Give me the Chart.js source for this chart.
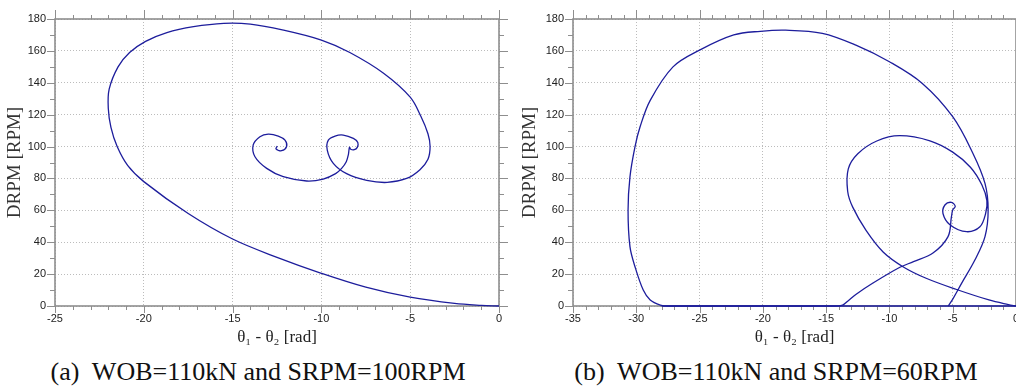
<!DOCTYPE html>
<html>
<head>
<meta charset="utf-8">
<script src="https://cdn.jsdelivr.net/npm/chart.js@4.4.1/dist/chart.umd.min.js"></script>
<style>
  html, body { margin: 0; padding: 0; background: #fff; overflow: hidden; width: 1016px; height: 388px; }
  .box { position: absolute; top: 0; }
  .cap { position: absolute; top: 357px; font-family: "Liberation Serif", "DejaVu Serif", serif; font-size: 26px;
         line-height: 30px; color: #111; white-space: pre; transform: translateX(-50%); }
</style>
</head>
<body>
<div class="box" style="left:0"><canvas id="chartA" width="515" height="352"></canvas></div>
<div class="box" style="left:515px"><canvas id="chartB" width="520" height="352"></canvas></div>
<div class="cap" style="left:258px">(a)  WOB=110kN and SRPM=100RPM</div>
<div class="cap" style="left:776px">(b)  WOB=110kN and SRPM=60RPM</div>
<script>
// (a) WOB=110kN, SRPM=100RPM : theta1 - theta2 [rad] vs DRPM [RPM]
const dthetaA = [0, -1.0, -2.5, -5.0, -7.5, -10.0, -12.5, -15.0, -17.5, -20.0, -20.9, -21.5,
  -21.85, -22.0, -21.95, -21.45, -20.8, -19.9, -18.7, -17.2, -15.5, -14.0, -12.2, -10.0, -8.4, -6.5, -5.0,
  -4.4, -4.0, -3.88, -4.0, -4.45, -5.2, -6.3, -7.45, -8.58, -9.33, -9.67, -9.61, -9.23, -8.77, -8.2,
  -7.95, -7.98, -8.15, -8.35, -8.42, -8.48, -8.6, -8.85, -9.2, -9.9, -10.83, -12.15, -13.08, -13.74,
  -13.84, -13.46, -12.99, -12.43, -12.05, -11.96, -12.24, -12.56, -12.48];
const drpmA = [0, 0.4, 1.6, 5.5, 11.8, 20.5, 30.5, 42.0, 58.0, 78.0, 88.0, 100.0,
  112.0, 124.0, 136.0, 150.0, 159.0, 166.0, 171.5, 175.2, 177.3, 176.8, 173.2, 166.8, 159.0, 146.0, 131.0,
  119.0, 108.0, 100.0, 92.0, 85.5, 80.0, 77.5, 78.8, 83.0, 89.5, 97.8, 104.0, 106.6, 107.2, 105.1,
  102.5, 99.5, 98.0, 98.3, 99.6, 95.0, 90.5, 86.5, 83.0, 79.6, 78.4, 81.1, 86.3, 93.6,
  101.0, 106.2, 107.8, 106.6, 104.0, 100.0, 97.4, 98.6, 100.3];

// (b) WOB=110kN, SRPM=60RPM
const dthetaB = [0, -0.6, -2.14, -4.75, -7.1, -8.9, -10.5, -11.86, -12.9, -13.3, -13.25, -12.5, -11.0, -9.2,
  -6.8, -5.0, -3.6, -2.7, -2.3, -2.4, -2.85, -3.9, -5.2, -5.77, -5.6, -5.1, -4.8, -5.0,
  -5.1, -5.37, -6.56, -8.1, -9.17, -11.3, -12.6, -13.3, -13.7, -14.3,
  -27.5, -28.1, -28.9, -29.45, -30.1, -30.5, -30.65, -30.5, -30.1, -29.7, -28.9, -27.1, -25.0, -22.3, -20.2,
  -18.2, -15.3, -12.65, -10.0, -7.4, -5.0, -3.4, -2.45, -2.2, -2.45, -3.25, -4.3, -4.96, -5.35];
const drpmB = [0, 0.9, 3.8, 10.5, 17.4, 24.5, 33.9, 47.6, 62.0, 72.0, 86.0, 95.5, 103.5, 106.8,
  103.6, 96.5, 87.0, 76.0, 66.0, 58.0, 49.7, 46.6, 50.8, 58.0, 63.5, 65.0, 62.5, 60.2,
  56.0, 43.5, 33.2, 27.8, 24.3, 14.4, 7.5, 3.0, 0.6, 0,
  0, 0.6, 3.8, 10.0, 24.6, 37.2, 60.0, 81.0, 100.0, 112.4, 129.0, 150.0, 160.5, 170.0, 172.3,
  173.0, 171.0, 163.6, 153.2, 139.6, 118.7, 95.7, 76.9, 60.2, 43.5, 28.8, 14.2, 4.8, 0];
// stick phase along DRPM = 0
const stickThetaB = [-28.0, 0];
const stickRpmB = [0, 0];

const xMinA = -25, xMinB = -35, xMax = 0;
const yMin = 0, yMax = 180;

const lineColor = '#1d1d9c';
const tickFont = { family: '"Liberation Sans", Arial, sans-serif', size: 11 };
const serif = '"Liberation Serif", "DejaVu Serif", serif';

function pts(xs, ys) {
  return xs.map((x, i) => ({ x: x, y: ys[i] }));
}

// frame round the plot and the major / minor tick marks on all four sides
const frameTicks = {
  id: 'frameTicks',
  beforeDatasetsDraw(chart, args, o) {
    const { ctx, chartArea: a } = chart;
    const xs = chart.scales.x, ys = chart.scales.y;
    ctx.save();
    ctx.strokeStyle = '#8e8e8e';
    ctx.lineWidth = 1;
    ctx.beginPath();
    for (let v = xs.min; v <= xs.max + 1e-6; v += o.xMinor) {
      const major = Math.abs(v % o.xMajor) < 1e-6;
      const p = Math.round(xs.getPixelForValue(v)) + 0.5;
      ctx.moveTo(p, a.bottom); ctx.lineTo(p, a.bottom + (major ? 7 : 4));
      ctx.moveTo(p, a.top); ctx.lineTo(p, a.top - (major ? 9 : 4));
    }
    for (let v = ys.min; v <= ys.max + 1e-6; v += o.yMinor) {
      const major = Math.abs(v % o.yMajor) < 1e-6;
      const p = Math.round(ys.getPixelForValue(v)) + 0.5;
      ctx.moveTo(a.left, p); ctx.lineTo(a.left - (major ? 8 : 5), p);
      ctx.moveTo(a.right, p); ctx.lineTo(a.right + (major ? 9 : 5), p);
    }
    ctx.stroke();
    ctx.lineWidth = 1.6;
    ctx.strokeRect(a.left, a.top, a.width, a.height);
    ctx.restore();
  }
};

function makeChart(id, datasets, xMin, yWidth, padRight) {
  return new Chart(document.getElementById(id), {
    type: 'scatter',
    data: { datasets: datasets },
    options: {
      responsive: false,
      animation: false,
      layout: { padding: { top: 19, right: padRight, left: 0, bottom: 0 } },
      plugins: {
        legend: { display: false },
        tooltip: { enabled: false },
        frameTicks: { xMinor: 1, xMajor: 5, yMinor: 10, yMajor: 20 }
      },
      scales: {
        x: {
          type: 'linear', min: xMin, max: xMax,
          ticks: { stepSize: 5, padding: 6, color: '#222', font: tickFont, maxRotation: 0, autoSkip: false },
          grid: { color: '#bcbcbc', lineWidth: 1, drawTicks: false },
          border: { display: false, dash: [1, 2] },
          title: { display: true, text: 'θ₁ - θ₂ [rad]', color: '#222',
                   font: { family: serif, size: 17, weight: 'normal' }, padding: { top: 0, bottom: 4 } },
          afterFit(s) { s.height = 46; }
        },
        y: {
          type: 'linear', min: yMin, max: yMax,
          ticks: { stepSize: 20, padding: 9, color: '#222', font: tickFont },
          grid: { color: '#bcbcbc', lineWidth: 1, drawTicks: false },
          border: { display: false, dash: [1, 2] },
          title: { display: true, text: 'DRPM [RPM]', color: '#333',
                   font: { family: serif, size: 19, weight: 'normal' }, padding: { top: 4, bottom: 0 } },
          afterFit(s) { s.width = yWidth; }
        }
      }
    },
    plugins: [frameTicks]
  });
}

function trace(data) {
  return { data: data, showLine: true, borderColor: lineColor, borderWidth: 1.3, pointRadius: 0,
           tension: 0.35, fill: false, clip: 4 };
}

makeChart('chartA', [trace(pts(dthetaA, drpmA))], xMinA, 55, 16);
makeChart('chartB', [trace(pts(stickThetaB, stickRpmB)), trace(pts(dthetaB, drpmB))], xMinB, 58, 19);
</script>
</body>
</html>
